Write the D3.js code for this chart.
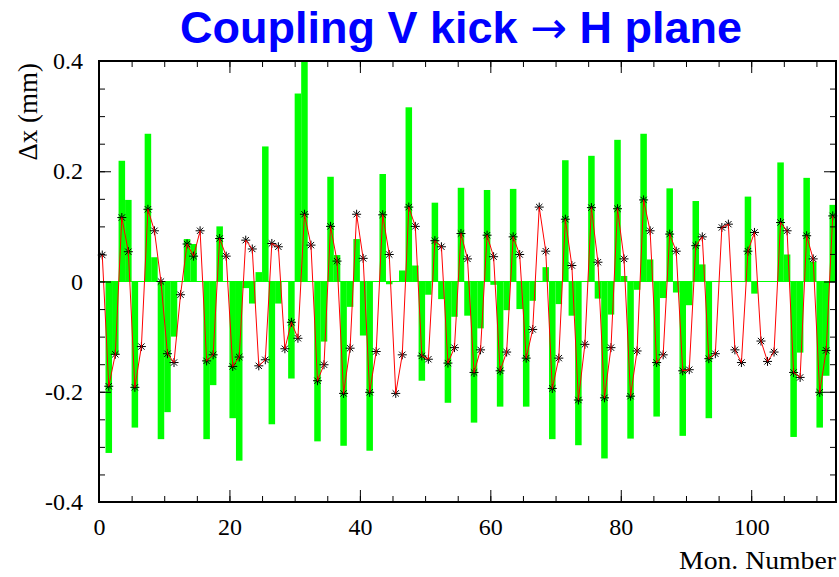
<!DOCTYPE html>
<html>
<head>
<meta charset="utf-8">
<script src="https://cdn.jsdelivr.net/npm/d3@7"></script>
<style>
body { margin: 0; background: #fff; }
svg { display: block; }
</style>
</head>
<body>
<svg id="chart" width="839" height="577"></svg>
<script>
// model (red line + stars), one value per monitor, drawn at bin centres
var modelValues = [0.048, -0.19, -0.132, 0.116, 0.054, -0.192, -0.118, 0.131, 0.092, 0.0,
	-0.131, -0.147, -0.024, 0.068, 0.046, 0.092, -0.144, -0.133, 0.078, 0.046,
	-0.154, -0.137, 0.075, 0.059, -0.153, -0.142, 0.069, 0.063, -0.122, -0.074,
	-0.103, 0.122, 0.066, -0.18, -0.151, 0.1, 0.037, -0.203, -0.121, 0.122,
	0.042, -0.201, -0.127, 0.121, 0.049, -0.203, -0.133, 0.135, 0.1, -0.135,
	-0.141, 0.074, 0.063, -0.148, -0.12, 0.087, 0.041, -0.165, -0.124, 0.084,
	0.045, -0.162, -0.128, 0.081, 0.049, -0.139, -0.087, 0.135, 0.055, -0.194,
	-0.139, 0.113, 0.029, -0.215, -0.114, 0.134, 0.035, -0.211, -0.12, 0.132,
	0.041, -0.208, -0.126, 0.148, 0.092, -0.147, -0.133, 0.086, 0.055, -0.162,
	-0.16, 0.065, 0.081, -0.14, -0.131, 0.098, 0.104, -0.124, -0.147, 0.055,
	0.089, -0.108, -0.145, -0.128, 0.107, 0.092, -0.165, -0.174, 0.083, 0.041,
	-0.201, -0.125, 0.119];

// measured histogram (green), bin j covers [j, j+1]
var measuredValues = [0, -0.311, -0.133, 0.219, 0.148, -0.265, 0.0, 0.268, 0.044, -0.286,
	-0.237, -0.1, 0.0, 0.077, 0.068, 0.0, -0.286, -0.188, 0.1, 0.0,
	-0.248, -0.325, -0.012, -0.04, 0.017, 0.245, -0.259, -0.04, 0.0, -0.176,
	0.341, 0.4, 0.0, -0.29, -0.109, 0.19, 0.048, -0.298, -0.046, 0.077,
	-0.098, -0.307, 0.0, 0.195, -0.005, 0.0, 0.02, 0.316, 0.029, -0.18,
	-0.024, 0.143, -0.032, -0.22, -0.064, 0.17, -0.062, -0.256, -0.085, 0.166,
	-0.006, -0.227, -0.052, 0.168, -0.05, -0.227, -0.035, 0.001, 0.026, -0.286,
	-0.041, 0.22, -0.062, -0.297, 0.0, 0.228, -0.031, -0.321, -0.06, 0.257,
	0.01, -0.285, -0.015, 0.268, 0.04, -0.245, -0.03, 0.169, -0.02, -0.28,
	-0.043, 0.146, 0.031, -0.248, 0.0, 0.0, 0.0, 0.0, 0.0, 0.154,
	-0.022, 0.0, 0.0, 0.0, 0.216, 0.049, -0.282, -0.129, 0.188, 0.036,
	-0.265, -0.171, 0.139];

var xTickLabels = [0, 20, 40, 60, 80, 100];
var yTickLabels = [-0.4, -0.2, 0, 0.2, 0.4];
var xDomain = [0, 113];
var yDomain = [-0.4, 0.4];

var svg = d3.select("#chart");
var frameLeft = 99, frameRight = 836, frameTop = 61, frameBottom = 502;

var x = d3.scaleLinear().domain(xDomain).range([frameLeft, frameRight]);
var y = d3.scaleLinear().domain(yDomain).range([frameBottom, frameTop]);

var serif = "'Liberation Serif', 'Times New Roman', serif";

// green histogram
var bars = measuredValues.map(function(v, j) { return {bin: j, value: v}; });
svg.append("g").selectAll("rect")
	.data(bars)
	.enter()
	.append("rect")
	.attr("x", function(d) { return x(d.bin); })
	.attr("width", function(d) { return x(d.bin + 1) - x(d.bin); })
	.attr("y", function(d) { return y(Math.max(0, d.value)); })
	.attr("height", function(d) { return Math.abs(y(d.value) - y(0)); })
	.attr("fill", "#00ff00");

svg.append("line")
	.attr("x1", x(0)).attr("x2", x(113))
	.attr("y1", y(0)).attr("y2", y(0))
	.attr("stroke", "#00ff00")
	.attr("stroke-width", 1);

// model points
var points = modelValues.map(function(v, i) { return {pos: i + 0.5, value: v}; });

var star = function(s) {
	return "M" + (-s) + ",0H" + s + "M0," + (-s) + "V" + s +
		"M" + (-s * 0.7) + "," + (-s * 0.7) + "L" + (s * 0.7) + "," + (s * 0.7) +
		"M" + (-s * 0.7) + "," + (s * 0.7) + "L" + (s * 0.7) + "," + (-s * 0.7);
};

svg.append("g").selectAll("path.star")
	.data(points)
	.enter()
	.append("path")
	.classed("star", true)
	.attr("transform", function(d) { return "translate(" + x(d.pos) + "," + y(d.value) + ")"; })
	.attr("d", star(4.5))
	.attr("stroke", "black")
	.attr("stroke-width", 1)
	.attr("fill", "none");

svg.append("path")
	.datum(points)
	.attr("d", d3.line()
		.x(function(d) { return x(d.pos); })
		.y(function(d) { return y(d.value); }))
	.attr("fill", "none")
	.attr("stroke", "red")
	.attr("stroke-width", 1);

// ticks on all four sides, pointing inward
var xMinor = d3.range(0, 114, 5);
var yMinor = d3.range(-8, 9).map(function(k) { return k * 0.05; });

var addTicks = function(axisFn, scale, values, len, pos, padding) {
	var g = svg.append("g")
		.attr("transform", pos)
		.call(axisFn(scale).tickValues(values).tickSize(-len).tickPadding(padding || 0)
			.tickFormat(padding ? function(d) { return String(+d.toFixed(1)); } : function() { return ""; }));
	g.select(".domain").remove();
	g.selectAll(".tick line").attr("stroke", "black").attr("stroke-width", 1);
	g.selectAll("text").attr("font-family", serif).attr("font-size", 24).attr("fill", "black");
	return g;
};

addTicks(d3.axisBottom, x, xMinor, 6, "translate(0," + frameBottom + ")");
addTicks(d3.axisTop, x, xMinor, 6, "translate(0," + frameTop + ")");
addTicks(d3.axisBottom, x, xTickLabels, 12, "translate(0," + frameBottom + ")", 16);
addTicks(d3.axisTop, x, xTickLabels, 12, "translate(0," + frameTop + ")");
addTicks(d3.axisLeft, y, yMinor, 6, "translate(" + frameLeft + ",0)");
addTicks(d3.axisRight, y, yMinor, 6, "translate(" + frameRight + ",0)");
addTicks(d3.axisLeft, y, yTickLabels, 12, "translate(" + frameLeft + ",0)", 16);
addTicks(d3.axisRight, y, yTickLabels, 12, "translate(" + frameRight + ",0)");

// frame
svg.append("rect")
	.attr("x", frameLeft).attr("y", frameTop)
	.attr("width", frameRight - frameLeft).attr("height", frameBottom - frameTop)
	.attr("fill", "none")
	.attr("stroke", "black")
	.attr("stroke-width", 2);

// titles
var title = svg.append("text")
	.attr("x", 461).attr("y", 43)
	.attr("text-anchor", "middle")
	.attr("font-family", "'Liberation Sans', Arial, sans-serif")
	.attr("font-weight", "bold")
	.attr("font-size", 45)
	.attr("fill", "#0000ff");
title.append("tspan").text("Coupling V kick ");
title.append("tspan").attr("font-family", "'DejaVu Sans', sans-serif").attr("font-weight", "normal").attr("font-size", 44).text("\u2192");
title.append("tspan").text(" H plane");

svg.append("text")
	.attr("x", frameRight).attr("y", 569)
	.attr("text-anchor", "end")
	.attr("font-family", serif)
	.attr("font-size", 26)
	.attr("textLength", 157)
	.attr("lengthAdjust", "spacingAndGlyphs")
	.text("Mon. Number");

svg.append("text")
	.attr("transform", "translate(37,63) rotate(-90)")
	.attr("text-anchor", "end")
	.attr("font-family", serif)
	.attr("font-size", 27)
	.text("\u0394x (mm)");
</script>
</body>
</html>
